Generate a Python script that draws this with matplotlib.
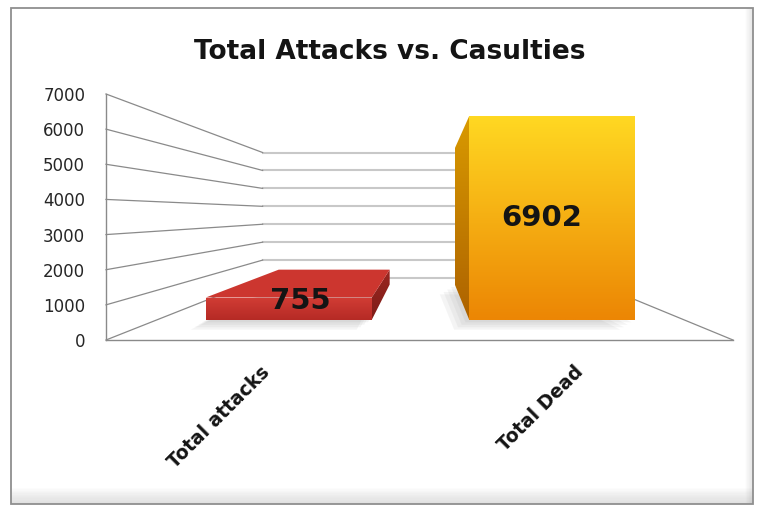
import matplotlib
matplotlib.use("Agg")
import numpy as np
import matplotlib.pyplot as plt
from matplotlib.patches import Polygon, Rectangle
from matplotlib.colors import LinearSegmentedColormap
from matplotlib.transforms import ScaledTranslation

# data
categories = ["Total attacks", "Total Dead"]
values = [755, 6902]
y_ticks = [0, 1000, 2000, 3000, 4000, 5000, 6000, 7000]
title = "Total Attacks vs. Casulties"

# bar styles: (front top, front bottom, top face, side top, side bottom)
bar_styles = [
    ("#d23d35", "#b52a25", "#cc362f", "#9a2620", "#7e1d18"),
    ("#ffd822", "#ec8604", "#ffd822", "#d99a00", "#ad6200"),
]

# perspective: axes data coords are the front plane, z goes back into the chart
VP_X, VP_V = 1.02, 3600
Z_WALL = 0.96
Z_FRONT, Z_BACK = 0.19, 0.78
Z_LABEL = 0.30
BAR_W = 0.63


def proj(x, v, z):
    s = 1.0 / (1.0 + z)
    return VP_X + (x - VP_X) * s, VP_V + (v - VP_V) * s


def face(ax, pts, c_top, c_bot, zorder):
    xs = [p[0] for p in pts]
    ys = [p[1] for p in pts]
    poly = Polygon(pts, closed=True, facecolor="none", edgecolor="none",
                   clip_on=False)
    ax.add_patch(poly)
    cmap = LinearSegmentedColormap.from_list("g", [c_bot, c_top])
    grad = np.linspace(0, 1, 128).reshape(-1, 1)
    im = ax.imshow(grad, cmap=cmap, origin="lower", aspect="auto",
                   extent=(min(xs), max(xs), min(ys), max(ys)),
                   interpolation="bilinear", zorder=zorder)
    im.set_clip_path(poly)


plt.rcParams["font.family"] = ["DejaVu Sans"]

W, H = 757, 507
fig = plt.figure(figsize=(W / 100, H / 100), dpi=100)
fig.patch.set_facecolor("white")

# chart area with soft grey edge at bottom/right
L, T, R, B = 11, 8, 753, 504
fig.add_artist(Rectangle((L / W, 1 - B / H), (R - L) / W, (B - T) / H,
                         transform=fig.transFigure, facecolor="white",
                         edgecolor="none", zorder=0))
for k in range(12):
    fig.add_artist(Rectangle((L / W, 1 - B / H), (R - L) / W, (16 - k * 1.3) / H,
                             transform=fig.transFigure, facecolor="#9a9a9a",
                             alpha=0.025, edgecolor="none", zorder=0.1))
    fig.add_artist(Rectangle(((R - 8 + k * 0.6) / W, 1 - B / H), (8 - k * 0.6) / W,
                             (B - T) / H, transform=fig.transFigure,
                             facecolor="#9a9a9a", alpha=0.02, edgecolor="none",
                             zorder=0.1))
fig.add_artist(Rectangle((L / W, 1 - B / H), (R - L) / W, (B - T) / H,
                         transform=fig.transFigure, facecolor="none",
                         edgecolor="#8f8f8f", lw=1.3, zorder=0.2))

ax = fig.add_axes([106 / W, (H - 340) / H, 627 / W, 246 / H])
ax.patch.set_visible(False)
ax.set_xlim(0, 2)
ax.set_ylim(0, 7000)

# walls
for t in y_ticks:
    xa, va = proj(0, t, 0)
    xb, vb = proj(0, t, Z_WALL)
    xc, vc = proj(2, t, Z_WALL)
    ax.plot([xb, xc], [vb, vc], color="#c8c8c8", lw=1.5, clip_on=False, zorder=1)
    ax.plot([xa, xb], [va, vb], color="#8a8a8a", lw=0.9, clip_on=False, zorder=1.2)

# right floor edge
xa, va = proj(2, 0, 0)
xb, vb = proj(2, 0, Z_WALL)
ax.plot([xa, xb], [va, vb], color="#8a8a8a", lw=0.9, clip_on=False, zorder=1.2)

# bars
for i, (cat, val) in enumerate(zip(categories, values)):
    ftop, fbot, ctop, stop, sbot = bar_styles[i]
    x0 = i + 0.5 - BAR_W / 2
    x1 = i + 0.5 + BAR_W / 2

    # soft shadow on the floor
    for k in range(4):
        dx, dv = -0.012 * (k + 1), -70 * (k + 1)
        pts = [proj(x0, 0, Z_FRONT), proj(x1, 0, Z_FRONT),
               proj(x1, 0, Z_BACK), proj(x0, 0, Z_BACK)]
        pts = [(p[0] + dx, p[1] + dv) for p in pts]
        ax.add_patch(Polygon(pts, closed=True, facecolor="#7a7a7a",
                             alpha=0.08, edgecolor="none", clip_on=False,
                             zorder=2))

    # side face
    xs = x0 if x0 > VP_X else x1
    side = [proj(xs, 0, Z_FRONT), proj(xs, val, Z_FRONT),
            proj(xs, val, Z_BACK), proj(xs, 0, Z_BACK)]
    face(ax, side, stop, sbot, 3)

    # top face when below eye level
    if val < VP_V:
        top = [proj(x0, val, Z_FRONT), proj(x1, val, Z_FRONT),
               proj(x1, val, Z_BACK), proj(x0, val, Z_BACK)]
        ax.add_patch(Polygon(top, closed=True, facecolor=ctop,
                             edgecolor="none", clip_on=False, zorder=3.5))

    front = [proj(x0, 0, Z_FRONT), proj(x1, 0, Z_FRONT),
             proj(x1, val, Z_FRONT), proj(x0, val, Z_FRONT)]
    face(ax, front, ftop, fbot, 4)

    lx, lv = proj(i + 0.5, val / 2, Z_LABEL)
    ax.text(lx, lv, f"{val}", ha="center", va="center", fontsize=21,
            fontweight="bold", color="#141414", zorder=10)

ax.set_xlim(0, 2)
ax.set_ylim(0, 7000)

# axes
for s in ["top", "right"]:
    ax.spines[s].set_visible(False)
for s in ["left", "bottom"]:
    ax.spines[s].set_color("#8a8a8a")
    ax.spines[s].set_linewidth(1.0)
    ax.spines[s].set_zorder(1.3)

ax.set_yticks(y_ticks)
ax.tick_params(axis="y", length=0, pad=15, labelsize=12, labelcolor="#262626")
ax.set_xticks([i + 0.5 for i in range(len(categories))])
ax.set_xticklabels(categories, rotation=45, ha="right",
                   rotation_mode="anchor", fontsize=13.5, fontweight="bold")
ax.tick_params(axis="x", length=0, pad=16, labelcolor="#141414")
for lab in ax.get_xticklabels():
    lab.set_transform(lab.get_transform() +
                      ScaledTranslation(-0.03, 0, fig.dpi_scale_trans))

fig.text(390 / W, 1 - 52 / H, title, ha="center", va="center",
         fontsize=19, fontweight="bold", color="#141414")

fig.savefig("out.png", dpi=100)
